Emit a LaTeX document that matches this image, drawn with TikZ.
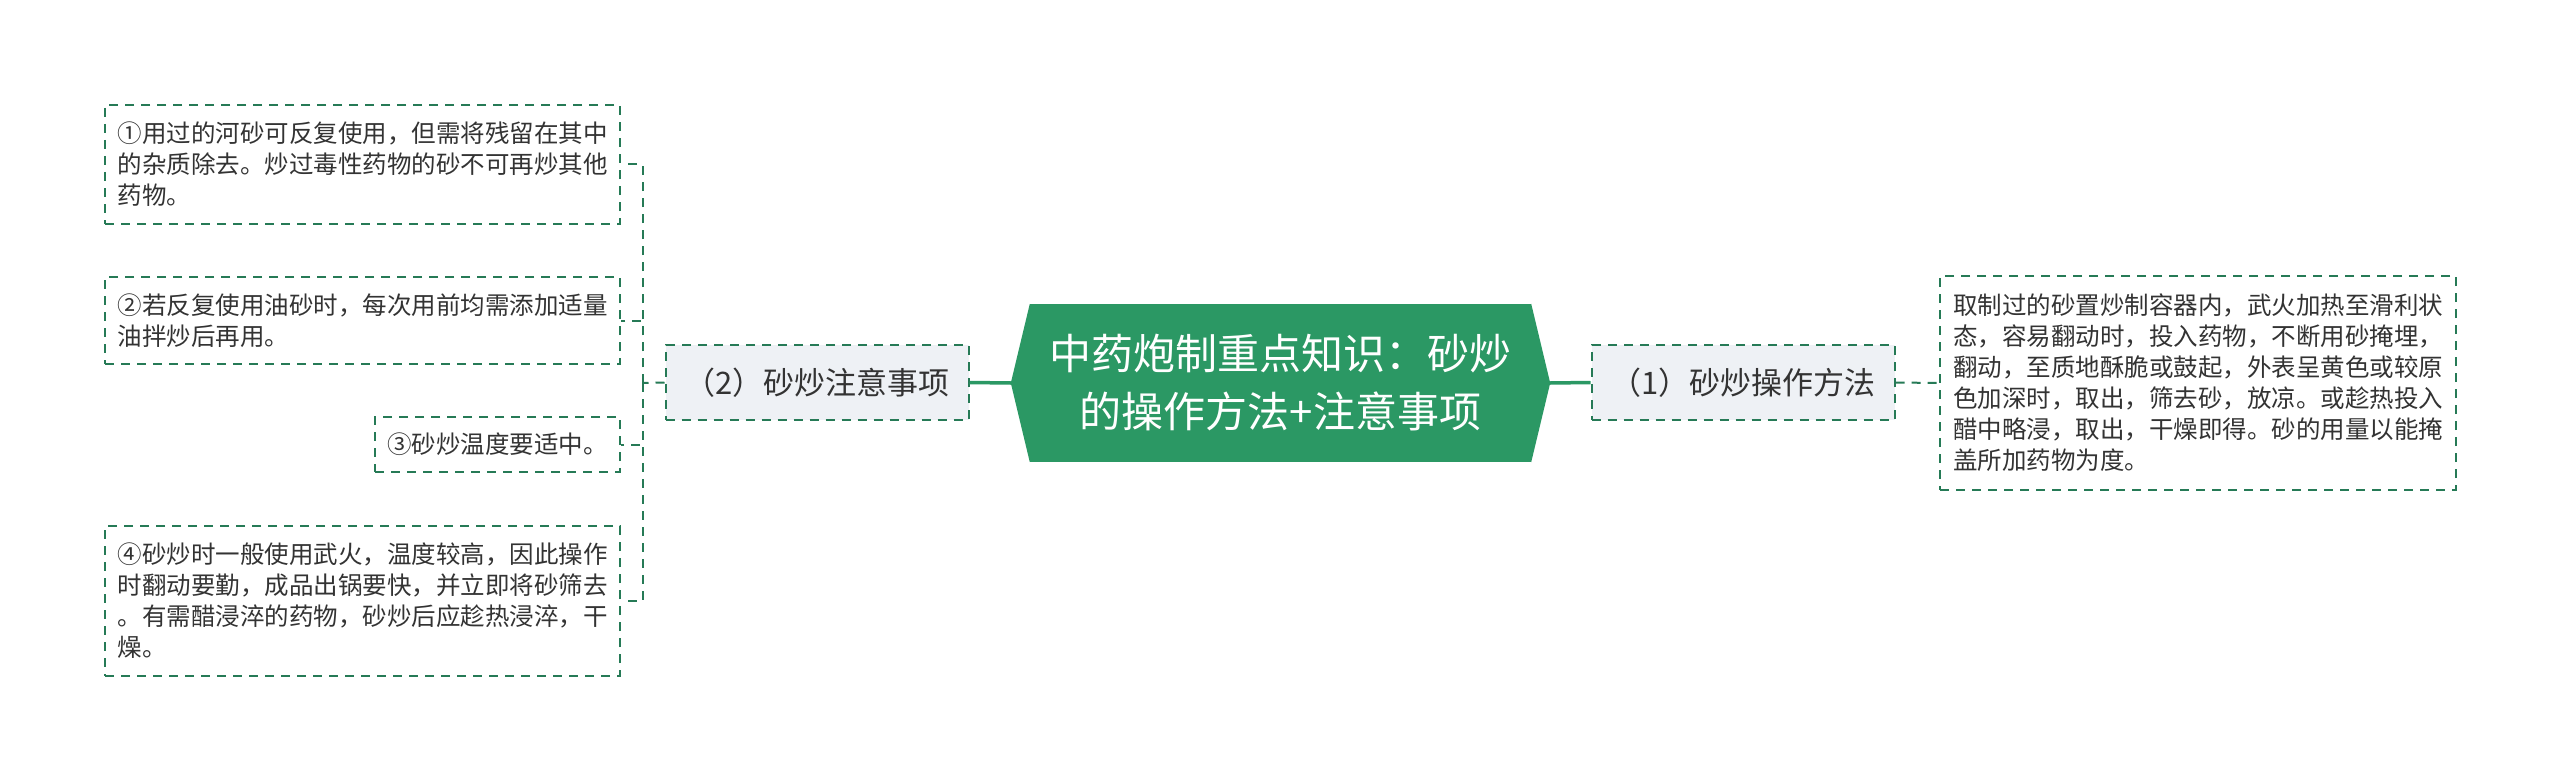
\documentclass[tikz,border=0pt]{standalone}
\usepackage{fontspec}
\setmainfont{Noto Sans CJK SC}
\definecolor{hexgreen}{RGB}{43,152,100}
\definecolor{dgreen}{RGB}{38,122,86}
\definecolor{boxgray}{RGB}{238,241,245}
\definecolor{txt}{RGB}{51,51,51}
\tikzset{
  leaf/.style={draw=dgreen, line width=2pt, dash pattern=on 9pt off 7pt, fill=white, text=txt,
    inner sep=0pt, align=left, font=\fontsize{24.5}{31}\selectfont},
  sub/.style={draw=dgreen, line width=2pt, dash pattern=on 9pt off 7pt, fill=boxgray, text=txt,
    inner sep=0pt, minimum width=303pt, minimum height=75pt, font=\fontsize{31}{37}\selectfont},
  conn/.style={draw=dgreen, line width=2pt, dash pattern=on 9pt off 7pt},
  mainconn/.style={draw=hexgreen, line width=3.5pt}
}
\begin{document}
\begin{tikzpicture}[x=1pt,y=-1pt]
\useasboundingbox (0,0) rectangle (2560,781);
\fill[white] (0,0) rectangle (2560,781);
% center node
\node[fill=hexgreen, inner sep=0pt, minimum width=501pt, minimum height=158pt, text=white, align=center,
  font=\fontsize{42}{58}\selectfont] (C) at (1280.5,383) {中药炮制重点知识：砂炒\\的操作方法+注意事项};
\fill[hexgreen] (C.north east) -- ([xshift=19pt]C.east) -- (C.south east) -- cycle;
\fill[hexgreen] (C.north west) -- ([xshift=-19pt]C.west) -- (C.south west) -- cycle;
\coordinate (Cl) at ([xshift=-19pt]C.west);
\coordinate (Cr) at ([xshift=19pt]C.east);
% sub nodes
\node[sub] (L) at (817,382.5) {（2）砂炒注意事项};
\node[sub] (R) at (1743,382.5) {（1）砂炒操作方法};
% leaves
\node[leaf, minimum width=516pt, minimum height=214pt] (RL) at (2198,383)
 {取制过的砂置炒制容器内，武火加热至滑利状\\态，容易翻动时，投入药物，不断用砂掩埋，\\翻动，至质地酥脆或鼓起，外表呈黄色或较原\\色加深时，取出，筛去砂，放凉。或趁热投入\\醋中略浸，取出，干燥即得。砂的用量以能掩\\盖所加药物为度。};
\node[leaf, minimum width=515pt, minimum height=119pt] (A1) at (362.5,164.5)
 {①用过的河砂可反复使用，但需将残留在其中\\的杂质除去。炒过毒性药物的砂不可再炒其他\\药物。};
\node[leaf, minimum width=515pt, minimum height=87pt] (A2) at (362.5,320.5)
 {②若反复使用油砂时，每次用前均需添加适量\\油拌炒后再用。};
\node[leaf, minimum width=245pt, minimum height=55pt] (A3) at (497.5,444.5)
 {③砂炒温度要适中。};
\node[leaf, minimum width=515pt, minimum height=150pt] (A4) at (362.5,601)
 {④砂炒时一般使用武火，温度较高，因此操作\\时翻动要勤，成品出锅要快，并立即将砂筛去\\。有需醋浸淬的药物，砂炒后应趁热浸淬，干\\燥。};
% connectors
\draw[mainconn] (L.east) -- (Cl);
\draw[mainconn] (Cr) -- (R.west);
\draw[conn] (R.east) -- (RL.west);
\coordinate (tr) at (642.5,383);
\draw[conn] (L.west) -- (tr);
\draw[conn] (tr) |- (A1.east);
\draw[conn] (tr) |- (A2.east);
\draw[conn] (tr) |- (A3.east);
\draw[conn] (tr) |- (A4.east);
\end{tikzpicture}
\end{document}
